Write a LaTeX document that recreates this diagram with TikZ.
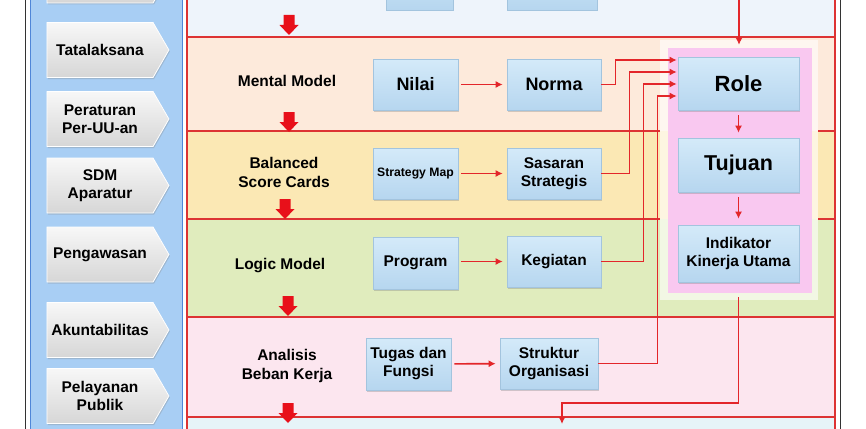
\documentclass[tikz,border=0pt]{standalone}
\usepackage{fontspec}
\setmainfont{Liberation Sans}
\usetikzlibrary{arrows.meta,shadows,shapes.symbols}
\definecolor{bluepanel}{HTML}{A8CEF4}
\definecolor{blueedge}{HTML}{4F86D8}
\definecolor{rowA}{HTML}{EEF4FB}
\definecolor{rowB}{HTML}{FDEADB}
\definecolor{rowC}{HTML}{FBE8B4}
\definecolor{rowD}{HTML}{E0ECBD}
\definecolor{rowE}{HTML}{FCE6EF}
\definecolor{rowF}{HTML}{E6F4F8}
\definecolor{pinkp}{HTML}{F9C8F0}
\definecolor{boxtop}{HTML}{D4EAF9}
\definecolor{boxbot}{HTML}{B6D6EF}
\definecolor{boxedge}{HTML}{A3C4DE}
\definecolor{redline}{HTML}{DD3333}
\definecolor{redarr}{HTML}{E3262A}
\definecolor{blockred}{HTML}{E8101A}
\tikzset{
  box/.style={draw=boxedge, line width=0.6pt, top color=boxtop, bottom color=boxbot,
    drop shadow={shadow xshift=1pt, shadow yshift=-1.5pt, opacity=0.35},
    align=center, inner sep=0pt, font=\bfseries\fontsize{15.5}{18}\selectfont},
  tab/.style={shape=signal, signal to=east, signal pointer angle=120,
    minimum width=122pt, minimum height=55pt, top color=white!97!black, bottom color=white!84!black,
    draw=white, line width=0.8pt,
    drop shadow={shadow xshift=1pt, shadow yshift=-1.5pt, opacity=0.3},
    align=center, inner sep=1pt, font=\bfseries\fontsize{15.5}{18}\selectfont},
  lab/.style={align=center, inner sep=0pt, font=\bfseries\fontsize{15.5}{19}\selectfont},
  conn/.style={draw=redarr, line width=1.6pt, -{Latex[length=7pt,width=7pt]}},
  rowline/.style={draw=redline, line width=1.1pt},
  downarr/.pic={\fill[blockred] (-5.5,0) -- (5.5,0) -- (5.5,10) -- (9.5,10) -- (0,20) -- (-9.5,10) -- (-5.5,10) -- cycle;}
}
\begin{document}
\begin{tikzpicture}[x=1pt,y=-1pt]
\useasboundingbox (0,0) rectangle (866,428);
\clip (0,0) rectangle (866,428);
\fill[white] (0,0) rectangle (866,428);
% outer black lines
\draw[black!80, line width=1pt] (25,-2) -- (25,430);
\draw[black!80, line width=1pt] (840,-2) -- (840,430);
% left blue panel
\draw[blueedge, fill=bluepanel, line width=1pt] (30.5,-5) rectangle (182,433);
% row bands
\fill[rowA] (187,-5) rectangle (835,37);
\fill[rowB] (187,37) rectangle (835,131);
\fill[rowC] (187,131) rectangle (835,219);
\fill[rowD] (187,219) rectangle (835,317);
\fill[rowE] (187,317) rectangle (835,417);
\fill[rowF] (187,417) rectangle (835,433);
% row lines
\draw[rowline] (187,-5) -- (187,433);
\draw[rowline] (835,-5) -- (835,433);
\draw[rowline] (187,37) -- (835,37);
\draw[rowline] (187,131) -- (660,131);
\draw[rowline] (818,131) -- (835,131);
\draw[rowline] (187,219) -- (660,219);
\draw[rowline] (818,219) -- (835,219);
\draw[rowline] (187,317) -- (835,317);
\draw[rowline] (187,417) -- (835,417);
% white frame and pink panel
\node[fill=white, opacity=0.6, minimum width=158pt, minimum height=260pt, inner sep=0pt] (frame) at (739,170) {};
\node[fill=pinkp, minimum width=144pt, minimum height=245pt, inner sep=0pt] (panel) at (740,170.5) {};
% tabs
\node[tab] (t0) at (100,-24.5) {};
\node[tab] (t1) at (100,50) {Tatalaksana};
\node[tab] (t2) at (100,119) {Peraturan\\Per-UU-an};
\node[tab] (t3) at (100,185.5) {SDM\\Aparatur};
\node[tab] (t4) at (100,254.5) {Pengawasan};
\node[tab] (t5) at (100,330) {Akuntabilitas};
\node[tab] (t6) at (100,396) {Pelayanan\\Publik};
% row labels
\node[lab] (l1) at (287,81) {Mental Model};
\node[lab] (l2) at (284,172.5) {Balanced\\Score Cards};
\node[lab] (l3) at (280,266) {Logic Model};
\node[lab] (l4) at (287,366) {Analisis\\Beban Kerja};
% block arrows
\pic at (289,15) {downarr};
\pic at (289,112) {downarr};
\pic at (285,199) {downarr};
\pic at (288,296) {downarr};
\pic at (288,403) {downarr};
% boxes
\node[box, minimum width=67pt, minimum height=55pt] (b01) at (419.5,-17.5) {};
\node[box, minimum width=90pt, minimum height=55pt] (b02) at (552,-17.5) {};
\node[box, minimum width=85pt, minimum height=51pt, font=\bfseries\fontsize{18}{20}\selectfont] (nilai) at (415.5,84.5) {Nilai};
\node[box, minimum width=94pt, minimum height=51pt, font=\bfseries\fontsize{18}{20}\selectfont] (norma) at (554,84.5) {Norma};
\node[box, minimum width=85pt, minimum height=51pt, font=\bfseries\fontsize{12.2}{14}\selectfont] (smap) at (415.5,173.5) {Strategy Map};
\node[box, minimum width=94pt, minimum height=51pt] (sasaran) at (554,173.5) {Sasaran\\Strategis};
\node[box, minimum width=85pt, minimum height=52pt] (program) at (415.5,263) {Program};
\node[box, minimum width=94pt, minimum height=51pt] (kegiatan) at (554,261.5) {Kegiatan};
\node[box, minimum width=85pt, minimum height=52pt] (tugas) at (408.5,364) {Tugas dan\\Fungsi};
\node[box, minimum width=98pt, minimum height=51pt] (struktur) at (549,363.5) {Struktur\\Organisasi};
\node[box, minimum width=121pt, minimum height=53pt, font=\bfseries\fontsize{22}{24}\selectfont] (role) at (738.5,83.5) {Role};
\node[box, minimum width=121pt, minimum height=54pt, font=\bfseries\fontsize{21.5}{24}\selectfont] (tujuan) at (738.5,165) {Tujuan};
\node[box, minimum width=121pt, minimum height=57pt] (iku) at (738.5,253.5) {Indikator\\Kinerja Utama};
% connectors
\draw[conn, shorten <=3pt, shorten >=4pt] (nilai) -- (norma);
\draw[conn, shorten <=3pt, shorten >=4pt] (smap) -- (sasaran);
\draw[conn, shorten <=3pt, shorten >=4pt] (program.east |- kegiatan.east) -- (kegiatan);
\draw[conn, shorten <=3pt, shorten >=4pt] (tugas) -- (struktur);
\draw[conn, shorten >=1pt] (norma.east) -- ++(14,0) |- ([yshift=23.5pt]role.west);
\draw[conn, shorten >=1pt] (sasaran.east) -- ++(28,0) |- ([yshift=11.5pt]role.west);
\draw[conn, shorten >=1pt] (kegiatan.east) -- ++(42,0) |- ([yshift=-0.5pt]role.west);
\draw[conn, shorten >=1pt] (struktur.east) -- ++(59,0) |- ([yshift=-12.5pt]role.west);
\coordinate (topin) at (739,-3);
\draw[conn, shorten >=3pt] (topin) -- (topin |- panel.north);
\draw[conn, shorten <=5pt, shorten >=5pt] (role) -- (tujuan);
\draw[conn, shorten <=5pt, shorten >=6pt] (tujuan) -- (iku);
\coordinate (bend) at (562,403);
\coordinate (outend) at (562,424);
\draw[conn] ([yshift=-4pt]panel.south -| iku.center) |- (bend) -- (outend);
\end{tikzpicture}
\end{document}
